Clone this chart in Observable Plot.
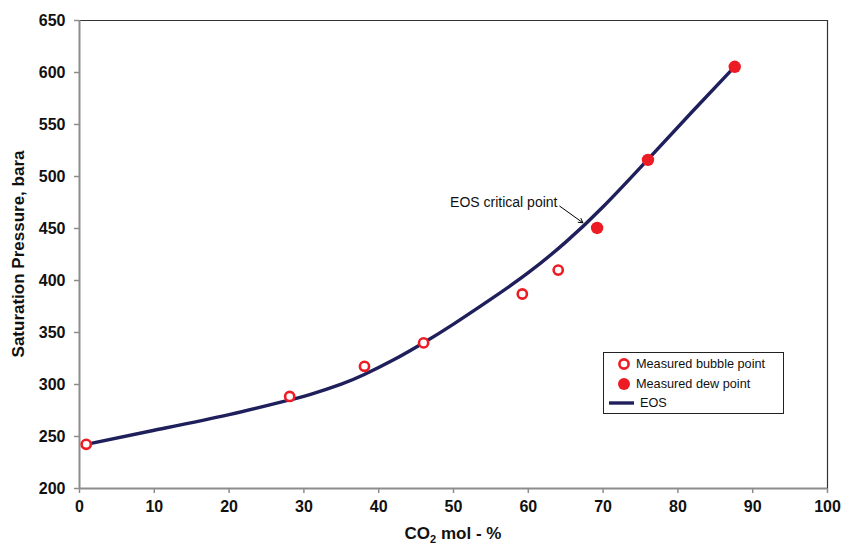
<!DOCTYPE html>
<html>
<head>
<meta charset="utf-8">
<script src="https://cdn.jsdelivr.net/npm/d3@7"></script>
<script src="https://cdn.jsdelivr.net/npm/@observablehq/plot@0.6"></script>
<style>
  html, body { margin: 0; padding: 0; background: #fff; }
  #chart { position: relative; width: 841px; height: 544px; font-family: "Liberation Sans", Arial, sans-serif; }
  #legend {
    position: absolute; left: 603px; top: 352px; width: 181px; height: 62px;
    border: 1px solid #222; background: #fff; box-sizing: border-box;
    font-size: 12.7px; color: #111;
  }
  #legend .row { position: absolute; left: 0; height: 18px; display: flex; align-items: center; }
  #legend svg { display: block; }
</style>
</head>
<body>
<div id="chart"></div>
<script>
// Measured saturation pressures (bara) against CO2 content (mol %)
const bubbleCO2 = [0.9, 28.1, 38.1, 46.0, 59.2, 64.0];
const bubbleP   = [242.5, 288.5, 317.5, 340, 387, 410];
const dewCO2    = [69.2, 76.0, 87.6];
const dewP      = [450.5, 516, 605.5];

// EOS-calculated saturation pressure curve
const eosCO2 = [0.9, 10, 20, 28, 31, 35, 38, 42, 46, 50, 55, 60, 65, 70, 76, 82, 87.6];
const eosP   = [242.5, 256, 271, 285, 290.7, 300.3, 309.3, 323.7, 340.1, 358.1, 382.1, 407.5, 436.9, 470.9, 516.5, 563, 605.6];

// Axis ticks
const xTicks = [0, 10, 20, 30, 40, 50, 60, 70, 80, 90, 100];
const yTicks = [200, 250, 300, 350, 400, 450, 500, 550, 600, 650];

// Critical point annotation (label anchor and arrow tip)
const noteText = ["EOS critical point"];
const noteAt   = [{x1: 64.2, y1: 471.5, x2: 67.3, y2: 455.5, tx: 63.9, ty: 475}];

const bubble = bubbleCO2.map((x, i) => ({x, y: bubbleP[i]}));
const dew    = dewCO2.map((x, i) => ({x, y: dewP[i]}));
const eos    = eosCO2.map((x, i) => ({x, y: eosP[i]}));

const red = "#ed1c24";
const navy = "#1f1f5c";
const axisGray = "#8c8c8c";

const plot = Plot.plot({
  width: 841,
  height: 544,
  marginLeft: 79,
  marginRight: 14,
  marginTop: 20,
  marginBottom: 56,
  style: {fontFamily: "'Liberation Sans', Arial, sans-serif", background: "#fff"},
  x: {domain: [0, 100]},
  y: {domain: [200, 650]},
  marks: [
    Plot.ruleX([100], {stroke: "#333", strokeWidth: 1.2}),
    Plot.ruleY([650], {stroke: "#333", strokeWidth: 1.2}),
    Plot.ruleX([0], {stroke: axisGray, strokeWidth: 2}),
    Plot.ruleY([200], {stroke: axisGray, strokeWidth: 2}),
    Plot.axisX({ticks: xTicks, tickSize: 5, tickPadding: 7, stroke: axisGray, strokeWidth: 1.5,
      fontSize: 16, fontWeight: "bold", fill: "#111", label: null}),
    Plot.axisY({ticks: yTicks, tickSize: 5, tickPadding: 9, stroke: axisGray, strokeWidth: 1.5,
      fontSize: 16, fontWeight: "bold", fill: "#111", label: null}),
    Plot.line(eos, {x: "x", y: "y", stroke: navy, strokeWidth: 3.4, curve: "natural"}),
    Plot.dot(bubble, {x: "x", y: "y", r: 4.6, stroke: red, strokeWidth: 2.6, fill: "#fff"}),
    Plot.dot(dew, {x: "x", y: "y", r: 6.2, fill: red, stroke: "none"}),
    Plot.arrow(noteAt, {x1: "x1", y1: "y1", x2: "x2", y2: "y2", stroke: "#000", strokeWidth: 1, headLength: 7}),
    Plot.text(noteAt, {x: "tx", y: "ty", text: () => noteText[0], textAnchor: "end", fontSize: 14, fill: "#111"})
  ]
});

const chart = document.getElementById("chart");
chart.appendChild(plot);

// Axis titles (x title carries a subscript)
const svg = d3.select(plot);
const xt = svg.append("text")
  .attr("x", 453).attr("y", 539)
  .attr("text-anchor", "middle")
  .attr("font-size", 17).attr("font-weight", "bold").attr("fill", "#111");
xt.append("tspan").text("CO");
xt.append("tspan").attr("font-size", 11).attr("dy", 4).text("2");
xt.append("tspan").attr("dy", -4).text(" mol - %");

svg.append("text")
  .attr("transform", "translate(24,254) rotate(-90)")
  .attr("text-anchor", "middle")
  .attr("font-size", 17).attr("font-weight", "bold").attr("fill", "#111")
  .text("Saturation Pressure, bara");

// Legend box inside the plotting area
const legendItems = ["Measured bubble point", "Measured dew point", "EOS"];
const legend = document.createElement("div");
legend.id = "legend";
const sym = [
  `<svg width="30" height="16"><circle cx="20" cy="8" r="4.6" fill="#fff" stroke="${red}" stroke-width="2.6"/></svg>`,
  `<svg width="30" height="16"><circle cx="20" cy="8" r="6" fill="${red}"/></svg>`,
  `<svg width="36" height="16"><line x1="5" x2="30" y1="8" y2="8" stroke="${navy}" stroke-width="3.4"/></svg>`
];
legendItems.forEach((t, i) => {
  const row = document.createElement("div");
  row.className = "row";
  row.style.top = (2 + i * 19.5) + "px";
  row.innerHTML = sym[i] + `<span style="margin-left:${i === 2 ? 0 : 2}px">${t}</span>`;
  legend.appendChild(row);
});
chart.appendChild(legend);
</script>
</body>
</html>
